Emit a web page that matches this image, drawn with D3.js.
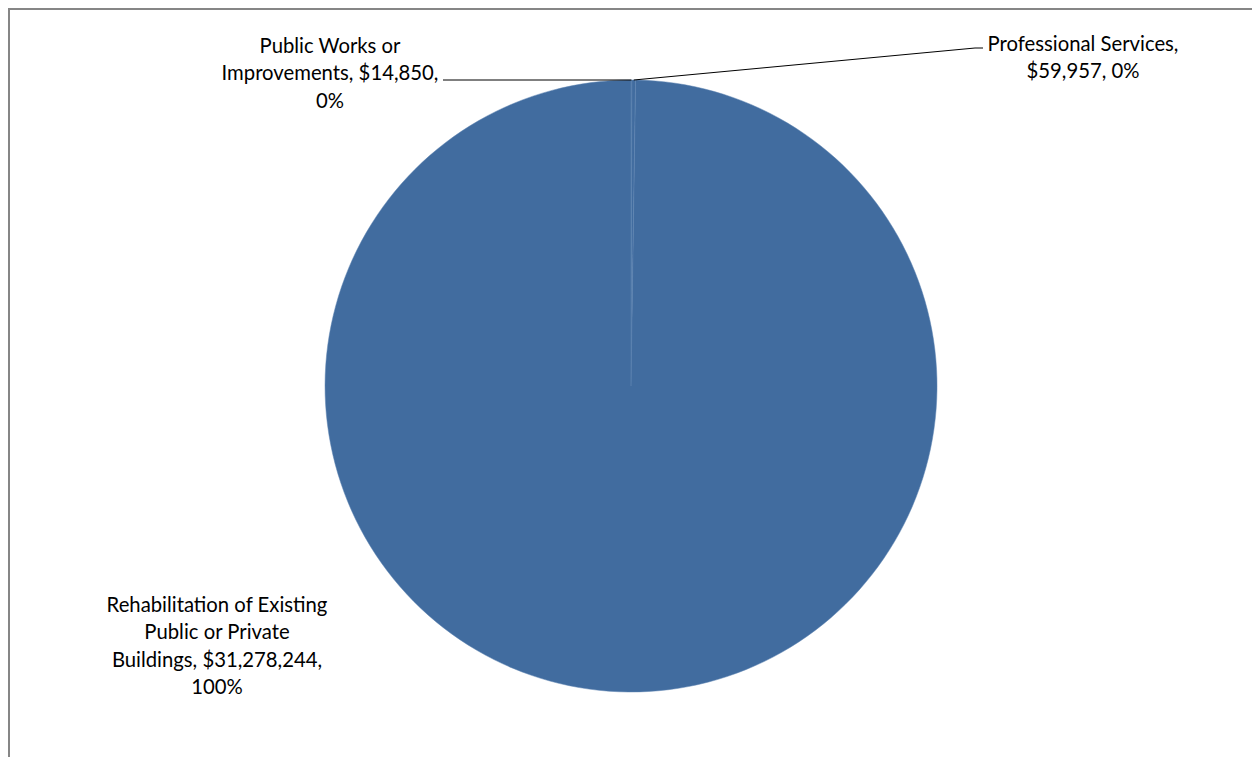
<html>
<head>
<script src="https://cdnjs.cloudflare.com/ajax/libs/d3/7.8.5/d3.min.js"></script>
  <meta charset="utf-8">
  <title>Pie</title>
  <style>
    body { margin: 0; background: #fff; }
  </style>
</head>
<body>
	<script type="text/javascript">

		// size
		var w = 1252;
		var h = 757;
		var cx = 631;
		var cy = 386;
		var radius = 306;

		// data (slice order clockwise from 12 o'clock)
		var categories = ["Public Works or Improvements", "Professional Services", "Rehabilitation of Existing Public or Private Buildings"];
		var values = [14850, 59957, 31278244];
		var labelLines = [
			["Public Works or", "Improvements, $14,850,", "0%"],
			["Professional Services,", "$59,957, 0%"],
			["Rehabilitation of Existing", "Public or Private", "Buildings, $31,278,244,", "100%"]
		];

		// where each label sits (centre x, first line y) and where its leader ends
		var labelX = [330, 1083, 217];
		var labelY = [46, 44, 605];
		var leaderEnd = [[443, 80], [975, 48], null];
		var lineGap = 27.3;

		var svg = d3.select("body")
					.append("svg")
					.attr("width", w)
					.attr("height", h);

		// frame
		svg.append("path")
			.attr("d", "M9," + h + " L9,9 L" + w + ",9")
			.attr("fill", "none")
			.attr("stroke", "#868686")
			.attr("stroke-width", 2);

		var pie = d3.pie().sort(null).value(function(d) { return d; });
		var arc = d3.arc().innerRadius(0).outerRadius(radius);
		var arcs = pie(values);

		var g = svg.append("g").attr("transform", "translate(" + cx + "," + cy + ")");

		g.selectAll("path.slice")
			.data(arcs)
			.enter()
			.append("path")
			.attr("class", "slice")
			.attr("d", arc)
			.attr("fill", "#416c9f")
			.attr("stroke", "#5f85b3")
			.attr("stroke-width", 0.5);

		// leader lines
		arcs.forEach(function(a, i) {
			if (!leaderEnd[i]) return;
			var mid = (a.startAngle + a.endAngle) / 2;
			var px = cx + radius * Math.sin(mid);
			var py = cy - radius * Math.cos(mid);
			var e = leaderEnd[i];
			var pts = [[px, py], e];
			if (i == 1) pts.push([e[0] + 8, e[1]]);
			svg.append("path")
				.attr("d", d3.line()(pts))
				.attr("fill", "none")
				.attr("stroke", "#000")
				.attr("stroke-width", 1);
		});

		// labels
		labelLines.forEach(function(lines, i) {
			svg.append("text")
				.attr("font-family", "Lato, 'Open Sans', sans-serif")
				.attr("font-size", "20.3px")
				.attr("fill", "#000")
				.attr("text-anchor", "middle")
				.selectAll("tspan")
				.data(lines)
				.enter()
				.append("tspan")
				.attr("x", labelX[i])
				.attr("y", function(d, j) { return labelY[i] + j * lineGap; })
				.attr("dy", "0.35em")
				.text(function(d) { return d; });
		});
	</script>
</body>
</html>
